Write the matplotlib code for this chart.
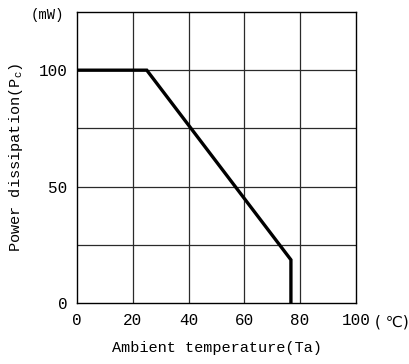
import matplotlib
matplotlib.use("Agg")
import matplotlib.pyplot as plt

# Derating curve: power dissipation vs ambient temperature
temp_c = [0, 25, 76.7, 76.7]
power_mw = [100, 100, 18.5, 0]

x_ticks = [0, 20, 40, 60, 80, 100]
y_ticks = [0, 50, 100]
x_grid = [20, 40, 60, 80]
y_grid = [25, 50, 75, 100]

plt.rcParams['font.family'] = ['Liberation Mono', 'DejaVu Sans']
plt.rcParams['mathtext.fontset'] = 'custom'
plt.rcParams['mathtext.rm'] = 'Liberation Mono'

fig = plt.figure(figsize=(4.10, 3.64), dpi=100)
ax = fig.add_axes([0.188, 0.168, 0.680, 0.799])

ax.set_xlim(0, 100)
ax.set_ylim(0, 125)

for gx in x_grid:
    ax.axvline(gx, color='#2a2a2a', lw=0.9, zorder=1)
for gy in y_grid:
    ax.axhline(gy, color='#2a2a2a', lw=0.9, zorder=1)

ax.plot(temp_c, power_mw, color='black', lw=2.4, solid_joinstyle='miter', zorder=3)

ax.set_xticks(x_ticks)
ax.set_yticks(y_ticks)
ax.tick_params(length=0, labelsize=11.5, pad=7, colors='black')
for s in ax.spines.values():
    s.set_color('black')
    s.set_linewidth(1.0)

ax.set_xlabel('Ambient temperature(Ta)', fontsize=11, labelpad=10)
ax.set_ylabel(r'Power dissipation(P$_{\rm c}$)', fontsize=11, labelpad=10)

ax.text(-0.105, 0.99, '(mW)', transform=ax.transAxes, fontsize=10,
        ha='center', va='center', family=['Liberation Mono', 'DejaVu Sans'])
ax.text(1.068, -0.065, '( ℃)', transform=ax.transAxes, fontsize=11,
        ha='left', va='center', family=['DejaVu Sans'])

fig.savefig('out.png', dpi=100)
